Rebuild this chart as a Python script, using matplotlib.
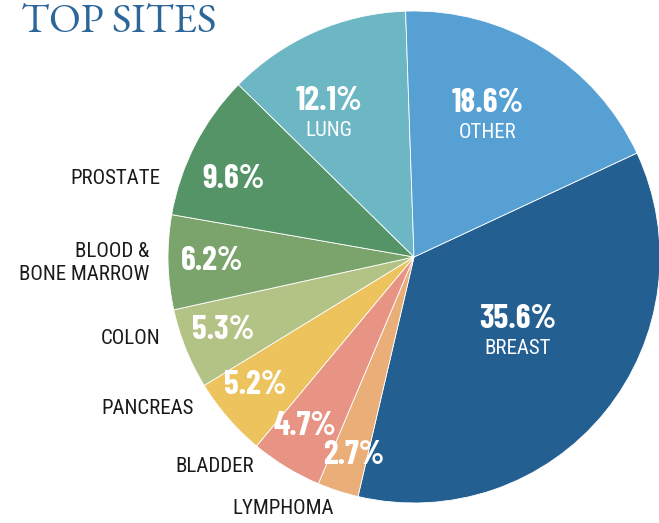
import numpy as np
import matplotlib
matplotlib.use("Agg")
import matplotlib.pyplot as plt

# share of cases by site, drawn clockwise starting with breast
sites = ["BREAST", "LYMPHOMA", "BLADDER", "PANCREAS", "COLON",
         "BLOOD &\nBONE MARROW", "PROSTATE", "LUNG", "OTHER"]
shares = [35.6, 2.7, 4.7, 5.2, 5.3, 6.2, 9.6, 12.1, 18.6]
colors = ["#245f91", "#eaae78", "#e79484", "#ecc35c", "#b3c285",
          "#7ba46c", "#559467", "#6db6c4", "#56a0d3"]

# where the percent sits: fraction of radius, and a nudge (deg) off the wedge middle
pct_radius = [0.52, 0.84, 0.82, 0.83, 0.83, 0.82, 0.80, 0.675, 0.645]
pct_nudge = [3, 1, -1.5, -2, -1, 0, 4, 7, 4]
name_inside = [True, False, False, False, False, False, False, True, True]
# outside name anchors (right edge / centre, in pixel units from the bottom-left)
outside_pos = {
    "LYMPHOMA": (283, 14, "center"),
    "BLADDER": (254, 56, "right"),
    "PANCREAS": (194, 115, "right"),
    "COLON": (160, 184, "right"),
    "BLOOD &\nBONE MARROW": (149, 260, "right"),
    "PROSTATE": (160, 345, "right"),
}

NARROW = ["Roboto Condensed", "DejaVu Sans"]
PCT = ["Barlow Condensed", "Roboto Condensed", "DejaVu Sans"]

fig = plt.figure(figsize=(6.59, 5.23), dpi=100)
ax = fig.add_axes([0, 0, 1, 1])
cx, cy, R = 414, 266, 246

wedges, _ = ax.pie(shares, colors=colors, startangle=25, counterclock=False,
                   center=(cx, cy), radius=R,
                   wedgeprops=dict(edgecolor="white", linewidth=0.6))

for w, site, share, fr, nd, inside in zip(wedges, sites, shares, pct_radius,
                                          pct_nudge, name_inside):
    mid = np.deg2rad((w.theta1 + w.theta2) / 2 + nd)
    x = cx + fr * R * np.cos(mid)
    y = cy + fr * R * np.sin(mid)
    if inside:
        ax.text(x, y + 13, f"{share}%", color="white", fontsize=24, fontweight="bold",
                family=PCT, ha="center", va="center")
        ax.text(x, y - 16, site, color="white", fontsize=15,
                family=NARROW, ha="center", va="center")
    else:
        ax.text(x, y, f"{share}%", color="white", fontsize=24, fontweight="bold",
                family=PCT, ha="center", va="center")
        tx, ty, ha = outside_pos[site]
        ax.text(tx, ty, site, color="#1a1a1a", fontsize=15, family=NARROW,
                ha=ha, va="center", multialignment="right", linespacing=1.3)

ax.text(21, 500, "TOP SITES", color="#2d6699", fontsize=30, fontweight="bold",
        family=["EB Garamond", "DejaVu Serif"], ha="left", va="center")

ax.set_xlim(0, 659)
ax.set_ylim(0, 523)
ax.set_aspect("equal")
ax.axis("off")
fig.savefig("out.png", dpi=100)
